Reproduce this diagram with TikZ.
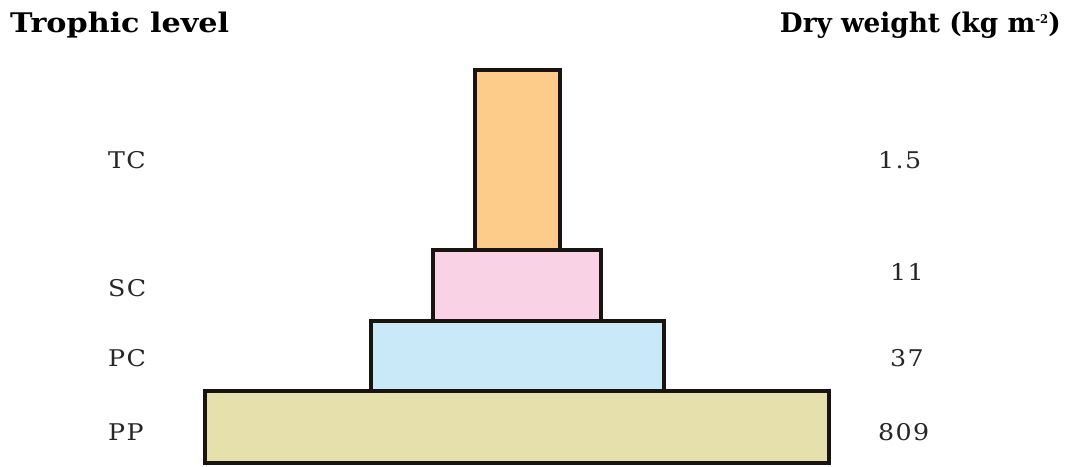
\documentclass[tikz,border=0pt]{standalone}
\usepackage{fontspec}
\usepackage{graphicx}
\setmainfont{DejaVu Serif}
\newfontfamily\hdfont{DejaVu Serif}[FakeStretch=1.12]
\newfontfamily\lbfont{DejaVu Serif}[LetterSpace=6,FakeStretch=1.1]
\definecolor{tcfill}{HTML}{FDCB8A}
\definecolor{scfill}{HTML}{F9D2E6}
\definecolor{pcfill}{HTML}{C9E8F8}
\definecolor{ppfill}{HTML}{E6E0AC}
\definecolor{edge}{HTML}{1A1410}
\begin{document}
\begin{tikzpicture}[x=1pt,y=-1pt,
  bar/.style={draw=edge,line width=4pt,rectangle},
  hdr/.style={font=\hdfont\bfseries\fontsize{27}{30}\selectfont,inner sep=0pt},
  lab/.style={font=\lbfont\fontsize{23}{26}\selectfont,inner sep=0pt,text=black!85}]
\useasboundingbox (0,0) rectangle (1065,466);
\fill[white] (0,0) rectangle (1065,466);
\filldraw[bar,fill=tcfill] (475,70) rectangle (560,250);
\filldraw[bar,fill=scfill] (433,250) rectangle (601,321);
\filldraw[bar,fill=pcfill] (371,321) rectangle (664,391);
\filldraw[bar,fill=ppfill] (205,391) rectangle (829,463);
\node[hdr,anchor=base west] (h1) at (10,32) {Trophic level};
\node[hdr,anchor=base east] (h2) at (1061,32) {\scalebox{0.87}[1]{Dry weight (kg m\raisebox{9pt}{\fontsize{12}{12}\selectfont -2})}};
\node[lab,anchor=base west] (tc) at (108,168) {TC};
\node[lab,anchor=base west] (sc) at (108,296) {SC};
\node[lab,anchor=base west] (pc) at (108,366) {PC};
\node[lab,anchor=base west] (pp) at (108,440) {PP};
\node[lab,anchor=base west] (v1) at (878,168) {1.5};
\node[lab,anchor=base west] (v2) at (890,280) {11};
\node[lab,anchor=base west] (v3) at (890,366) {37};
\node[lab,anchor=base west] (v4) at (878,440) {809};
\end{tikzpicture}
\end{document}
